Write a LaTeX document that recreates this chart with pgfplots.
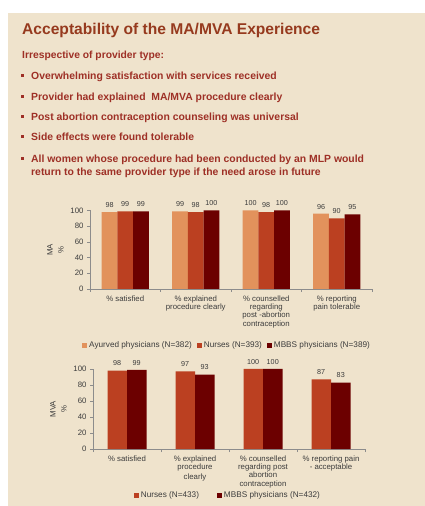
\documentclass[border=0pt]{standalone}
\usepackage{fontspec}
\setmainfont{Liberation Sans}
\usepackage{pgfplots}
\pgfplotsset{compat=1.18}
\definecolor{bg}{RGB}{239,227,204}
\definecolor{ttl}{RGB}{150,58,30}
\definecolor{bul}{RGB}{158,48,38}
\definecolor{ayu}{RGB}{226,146,92}
\definecolor{nur}{RGB}{187,64,33}
\definecolor{mbbs}{RGB}{108,0,0}
\definecolor{txt}{RGB}{60,60,60}
\definecolor{axc}{RGB}{140,140,140}
\pgfplotsset{
 mybar/.style={
  scale only axis,
  axis lines*=left,
  axis line style={axc},
  xmin=-0.5, xmax=3.5, ymin=0, ymax=100,
  ytick={0,20,...,100},
  xtick={-0.5,0.5,1.5,2.5,3.5},
  x tick label as interval,
  tick align=outside,
  major tick length=3pt,
  tick style={axc},
  ticklabel style={font=\fontsize{7.8}{9}\selectfont, text=txt},
  /pgf/number format/assume math mode=true,
  ybar=0pt,
  nodes near coords,
  every node near coord/.append style={font=\fontsize{7.2}{8}\selectfont, text=txt, yshift=1pt},
  xticklabel style={align=center, font=\fontsize{7.8}{8.4}\selectfont},
  ylabel style={align=center, font=\fontsize{7.8}{11}\selectfont, text=txt},
  legend style={draw=none, fill=none, font=\fontsize{8.2}{9}\selectfont, text=txt, legend columns=-1, anchor=center},
  legend image code/.code={\fill[##1] (0pt,-2.5pt) rectangle (5pt,2.5pt);},
 }
}
\begin{document}
\begin{tikzpicture}[x=1pt,y=1pt]
\useasboundingbox (0,0) rectangle (425,506);
\fill[white] (0,0) rectangle (425,506);
\fill[bg] (8,0) rectangle (425,493);
\node[anchor=base west, text=ttl, font=\fontsize{15.6}{18}\selectfont\bfseries, inner sep=0pt] at (22,471) {Acceptability of the MA/MVA Experience};
\node[anchor=base west, text=bul, font=\fontsize{10.3}{12}\selectfont\bfseries, inner sep=0pt] at (22,447) {Irrespective of provider type:};
\foreach \yb/\t in {426.5/{Overwhelming satisfaction with services received},405.5/{Provider had explained\ \ MA/MVA procedure clearly},385.5/{Post abortion contraception counseling was universal},365.5/{Side effects were found tolerable},343.5/{All women whose procedure had been conducted by an MLP would}}{
  \fill[bul] (20.5,\yb+2) rectangle ++(3,3);
  \node[anchor=base west, text=bul, font=\fontsize{10.4}{12}\selectfont\bfseries, inner sep=0pt] at (31,\yb) {\t};
}
\node[anchor=base west, text=bul, font=\fontsize{10.4}{12}\selectfont\bfseries, inner sep=0pt] at (31,330.5) {return to the same provider type if the need arose in future};

\begin{axis}[mybar, at={(90pt,217pt)}, anchor=south west, width=282pt, height=78.5pt, bar width=15.7pt,
  ylabel={MA\\\%},
  xticklabels={{\% satisfied},{\% explained\\procedure clearly},{\% counselled\\regarding\\post -abortion\\contraception},{\% reporting\\pain tolerable}},
  legend style={at={(0.486,-0.72)}, /tikz/every even column/.append style={column sep=3pt}}]
\addplot[fill=ayu, draw=none] coordinates {(0,98) (1,99) (2,100) (3,96)};
\addplot[fill=nur, draw=none] coordinates {(0,99) (1,98) (2,98) (3,90)};
\addplot[fill=mbbs, draw=none] coordinates {(0,99) (1,100) (2,100) (3,95)};
\legend{Ayurved physicians (N=382),Nurses (N=393),MBBS physicians (N=389)}
\end{axis}

\begin{axis}[mybar, at={(93pt,57pt)}, anchor=south west, width=272pt, height=80pt, bar width=19.5pt,
  ylabel={MVA\\\%},
  xticklabels={{\% satisfied},{\% explained\\procedure\\[2pt]clearly},{\% counselled\\regarding post\\abortion\\contraception},{\% reporting pain\\- acceptable}},
  legend style={at={(0.496,-0.58)}, /tikz/every even column/.append style={column sep=16pt}}]
\addplot[fill=nur, draw=none] coordinates {(0,98) (1,97) (2,100) (3,87)};
\addplot[fill=mbbs, draw=none] coordinates {(0,99) (1,93) (2,100) (3,83)};
\legend{Nurses (N=433),MBBS physicians (N=432)}
\end{axis}
\end{tikzpicture}
\end{document}
